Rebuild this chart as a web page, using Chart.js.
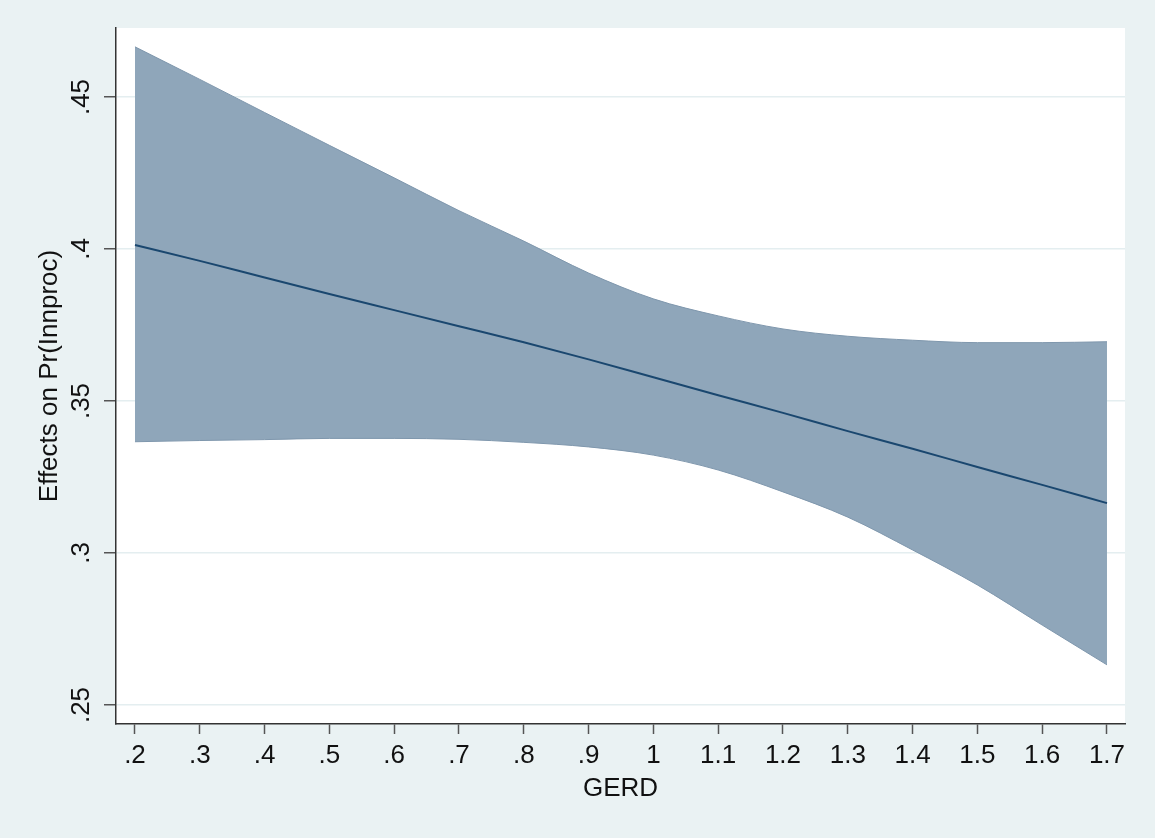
<!DOCTYPE html>
<html>
<head>
<meta charset="utf-8">
<script src="https://cdn.jsdelivr.net/npm/chart.js@4"></script>
<style>
  html, body { margin: 0; padding: 0; background: #eaf2f3; }
  #wrap { width: 1155px; height: 838px; position: relative; }
</style>
</head>
<body>
<div id="wrap"><canvas id="gerdChart"></canvas></div>
<script>
// GERD values on the x axis
const gerd = [0.2, 0.3, 0.4, 0.5, 0.6, 0.7, 0.8, 0.9, 1.0, 1.1, 1.2, 1.3, 1.4, 1.5, 1.6, 1.7];
// predicted effect and its confidence band
const effect = [0.4013, 0.3961, 0.3906, 0.3852, 0.3799, 0.3746, 0.3693, 0.3637, 0.3578, 0.3519, 0.3461, 0.3401, 0.3343, 0.3283, 0.3224, 0.3164];
const upper  = [0.4665, 0.4558, 0.4449, 0.4341, 0.4234, 0.4126, 0.4026, 0.3921, 0.3836, 0.3780, 0.3737, 0.3713, 0.3700, 0.3692, 0.3692, 0.3695];
const lower  = [0.3366, 0.3370, 0.3373, 0.3377, 0.3377, 0.3374, 0.3364, 0.3349, 0.3322, 0.3273, 0.3201, 0.3118, 0.3010, 0.2895, 0.2763, 0.2632];
// tick positions
const xTicks = [0.2, 0.3, 0.4, 0.5, 0.6, 0.7, 0.8, 0.9, 1.0, 1.1, 1.2, 1.3, 1.4, 1.5, 1.6, 1.7];
const yTicks = [0.25, 0.30, 0.35, 0.40, 0.45];

const pts = arr => gerd.map((g, i) => ({ x: g, y: arr[i] }));

// Stata style number: drop the leading zero and a trailing .0
function stataNum(v) {
    let s = (Math.round(v * 100) / 100).toString();
    return s.replace(/^0\./, '.');
}

const plotBg = {
    id: 'plotBg',
    beforeDraw(chart) {
        const { ctx, chartArea: a } = chart;
        ctx.save();
        ctx.fillStyle = '#ffffff';
        ctx.fillRect(a.left, a.top, a.right - a.left, a.bottom - a.top);
        ctx.restore();
    }
};

const font = { family: '"Liberation Sans", Arial, Helvetica, sans-serif', size: 26 };

new Chart(document.getElementById('gerdChart').getContext('2d'), {
    type: 'line',
    data: {
        datasets: [
            {
                label: 'lower',
                data: pts(lower),
                borderColor: '#7f97ad',
                borderWidth: 1,
                pointRadius: 0,
                fill: false,
                cubicInterpolationMode: 'monotone',
                order: 1
            },
            {
                label: 'upper',
                data: pts(upper),
                borderColor: '#7f97ad',
                borderWidth: 1,
                backgroundColor: '#8fa6ba',
                pointRadius: 0,
                fill: '-1',
                cubicInterpolationMode: 'monotone',
                order: 1
            },
            {
                label: 'Effects on Pr(Innproc)',
                data: pts(effect),
                borderColor: '#1a476f',
                borderWidth: 2,
                pointRadius: 0,
                fill: false,
                cubicInterpolationMode: 'monotone',
                order: 0
            }
        ]
    },
    options: {
        responsive: true,
        maintainAspectRatio: false,
        animation: false,
        layout: { padding: { top: 28, right: 30, left: 0, bottom: 0 } },
        plugins: {
            legend: { display: false },
            tooltip: { enabled: false }
        },
        scales: {
            x: {
                type: 'linear',
                min: 0.1707,
                max: 1.7278,
                afterBuildTicks: s => { s.ticks = xTicks.map(v => ({ value: v })); },
                afterFit: s => { s.height = 114; },
                border: { display: true, color: '#333333', width: 1.5 },
                grid: { drawOnChartArea: false, tickColor: '#555555', tickLength: 10, tickWidth: 1.5 },
                ticks: {
                    autoSkip: false,
                    maxRotation: 0,
                    padding: 6,
                    color: '#111111',
                    font: font,
                    callback: v => stataNum(v)
                },
                title: {
                    display: true,
                    text: 'GERD',
                    color: '#111111',
                    font: font,
                    padding: { top: 34, bottom: 34 }
                }
            },
            y: {
                type: 'linear',
                min: 0.24375,
                max: 0.4727,
                afterBuildTicks: s => { s.ticks = yTicks.map(v => ({ value: v })); },
                afterFit: s => { s.width = 116; },
                border: { display: true, color: '#333333', width: 1.5 },
                grid: { color: '#e4eef0', lineWidth: 1.5, tickColor: '#555555', tickLength: 12, tickWidth: 1.5 },
                ticks: {
                    minRotation: 90,
                    maxRotation: 90,
                    crossAlign: 'center',
                    padding: 4,
                    color: '#111111',
                    font: font,
                    callback: v => stataNum(v)
                },
                title: {
                    display: true,
                    text: 'Effects on Pr(Innproc)',
                    color: '#111111',
                    font: font,
                    padding: { top: 34, bottom: 34 }
                }
            }
        }
    },
    plugins: [plotBg]
});
</script>
</body>
</html>
